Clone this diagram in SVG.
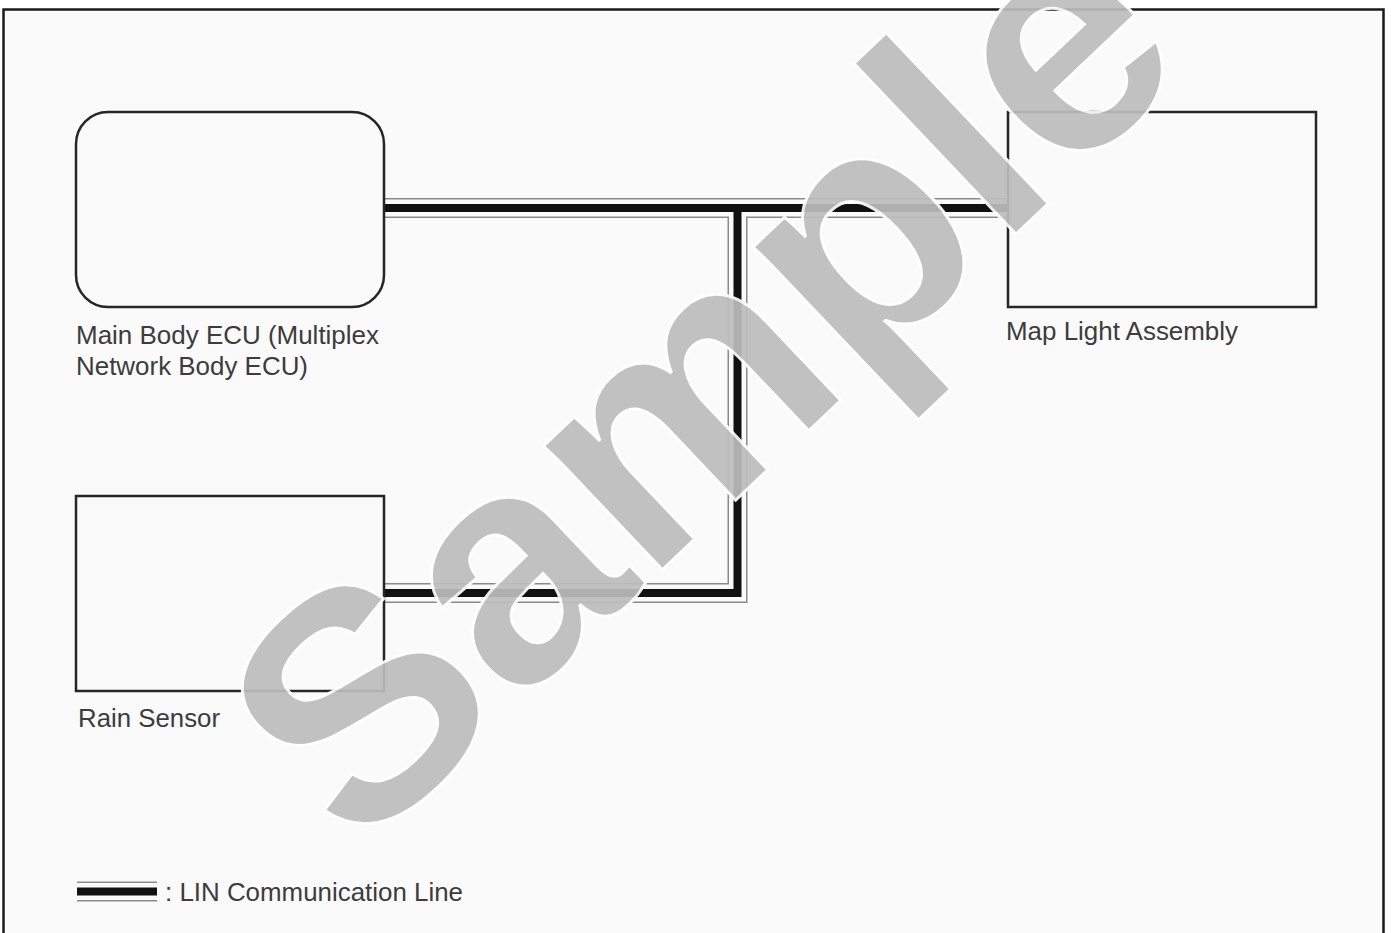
<svg xmlns="http://www.w3.org/2000/svg" width="1391" height="933" viewBox="0 0 1391 933">
<style>
.box{fill:#fafafa;stroke:#262626;stroke-width:2.5}
.lbl{font-family:"Liberation Sans",Arial,sans-serif;font-size:26px;fill:#3c3c3c}
.g{fill:none;stroke:#8a8a8a;stroke-width:20}
.w{fill:none;stroke:#fafafa;stroke-width:17}
.k{fill:none;stroke:#111;stroke-width:8}
.wm{font-family:"Liberation Sans",Arial,sans-serif;font-weight:bold;font-size:325px;fill:#bdbdbd;stroke:#ffffff;stroke-width:3;opacity:0.92}
</style>
<rect x="0" y="0" width="1391" height="933" fill="#ffffff"/>
<rect x="3.5" y="9.5" width="1380" height="940" fill="#fafafa" stroke="#1a1a1a" stroke-width="2.5"/>
<g id="connectors">
<path class="g" d="M384 208H1008M737.5 208V593H384"/>
<path class="w" d="M384 208H1008M737.5 208V593H384"/>
<path class="k" d="M384 208H1008M737.5 208V593H384"/>
</g>
<g id="main-body-ecu">
<rect class="box" x="76" y="112" width="308" height="195" rx="32" ry="32" stroke-width="3"/>
<text class="lbl" x="76" y="344" textLength="303" lengthAdjust="spacingAndGlyphs">Main Body ECU (Multiplex</text>
<text class="lbl" x="76" y="375" textLength="232" lengthAdjust="spacingAndGlyphs">Network Body ECU)</text>
</g>
<g id="map-light-assembly">
<rect class="box" x="1008" y="112" width="308" height="195"/>
<text class="lbl" x="1006" y="340" textLength="232" lengthAdjust="spacingAndGlyphs">Map Light Assembly</text>
</g>
<g id="rain-sensor">
<rect class="box" x="76" y="496" width="308" height="195"/>
<text class="lbl" x="78" y="727" textLength="142" lengthAdjust="spacingAndGlyphs">Rain Sensor</text>
</g>
<g id="legend">
<path class="g" d="M77 891.5H157"/>
<path class="w" d="M77 891.5H157"/>
<path class="k" d="M77 891.5H157" stroke-width="9"/>
<text class="lbl" x="165" y="901" textLength="298" lengthAdjust="spacingAndGlyphs">: LIN Communication Line</text>
</g>
<g id="watermark">
<text class="wm" transform="translate(697 377) rotate(-43.5)" x="0" y="116" text-anchor="middle">Sample</text>
</g>
</svg>
